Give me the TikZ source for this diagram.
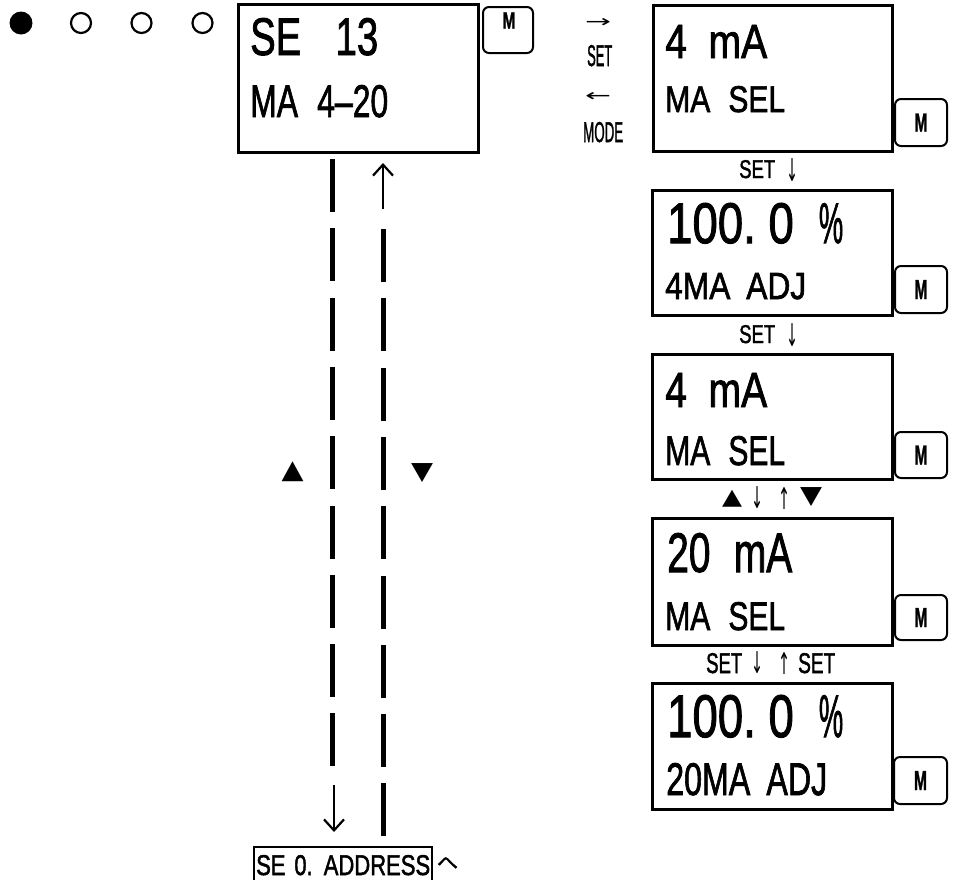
\documentclass[tikz,border=0pt]{standalone}
\usepackage{fontspec}
\usepackage{graphicx}
\usetikzlibrary{arrows.meta}
\setmainfont{Liberation Sans}[FakeBold=1.8]
\newfontfamily\mbf{Liberation Sans Bold}[FakeBold=1.5]
\newfontfamily\symf{DejaVu Sans}
\newfontfamily\jpf{Noto Sans CJK JP}[FakeBold=2]
\newcommand\fitbox[3]{\resizebox{#1pt}{#2pt}{#3}}
\newcommand\fitsym[3]{\resizebox*{#1pt}{#2pt}{\symf #3}}
\tikzset{
  lcdbox/.style={draw, line width=3pt, inner sep=0pt, anchor=north west},
  mbtn/.style={draw, line width=2pt, rounded corners=6pt, inner sep=0pt},
  txt/.style={anchor=base west, inner sep=0pt},
  sym/.style={anchor=center, inner sep=0pt},
  dashline/.style={line width=5pt, dash pattern=on 53pt off 16.3pt},
  bigarrow/.style={line width=2.2pt, -{Straight Barb[length=11pt,width=20pt,line width=2.2pt]}}
}
\begin{document}
\begin{tikzpicture}[x=1pt,y=-1pt]
\useasboundingbox (0,0) rectangle (957,879);
% mode dots
\fill (21,23) circle (11.5);
\draw[line width=2.2pt] (81,23) circle (10);
\draw[line width=2.2pt] (141.5,23) circle (10);
\draw[line width=2.2pt] (202.5,23) circle (10);

% box 1
\node[lcdbox, line width=3.3pt, minimum width=240pt, minimum height=148pt] (b1) at (237,3) {};
\node[txt] (t1a) at (250,55) {\fitbox{128}{37}{SE\hspace{0.9em}13}};
\node[txt] (t1b) at (250,117) {\fitbox{138}{32}{MA\hspace{0.6em}4–20}};
\node[mbtn, minimum width=50pt, minimum height=46pt] (m1) at (508,30) {};
\node[sym] (m1t) at (509,20.5) {\fitbox{13}{16}{\mbf M}};

% set / mode
\node[sym] (ar1) at (598,23) {\fitsym{26}{9}{→}};
\node[txt] (set0) at (587,66) {\fitbox{25}{21}{SET}};
\node[sym] (ar2) at (598,97) {\fitsym{26}{9}{←}};
\node[txt] (mode0) at (583,142) {\fitbox{40}{20}{MODE}};

% box 2
\node[lcdbox, minimum width=239pt, minimum height=146pt] (b2) at (652,4) {};
\node[txt] (t2a) at (665,58) {\fitbox{102}{33}{4\hspace{0.55em}mA}};
\node[txt] (t2b) at (665,112) {\fitbox{120}{26}{MA\hspace{0.6em}SEL}};
\node[mbtn, minimum width=52pt, minimum height=47pt] (m2) at (921,122.5) {};
\node[sym] (m2t) at (m2) {\fitbox{13}{18}{\mbf M}};

\node[txt] (s1) at (739,178) {\fitbox{36}{18}{SET}};
\node[sym] (s1a) at (792,170) {\fitsym{12}{23}{↓}};

% box 3
\node[lcdbox, minimum width=240pt, minimum height=125pt] (b3) at (651,189) {};
\node[txt] (t3a) at (667,243) {\fitbox{176}{40}{100.\hspace{0.28em}0\hspace{0.55em}\scalebox{0.6}[1]{\%}}};
\node[txt] (t3b) at (665,299) {\fitbox{141}{26}{4MA\hspace{0.5em}ADJ}};
\node[mbtn, minimum width=52pt, minimum height=47pt] (m3) at (921,289.5) {};
\node[sym] (m3t) at (m3) {\fitbox{13}{19}{\mbf M}};

\node[txt] (s2) at (739,343) {\fitbox{36}{18}{SET}};
\node[sym] (s2a) at (792,335) {\fitsym{12}{23}{↓}};

% box 4
\node[lcdbox, minimum width=240pt, minimum height=125pt] (b4) at (651,353) {};
\node[txt] (t4a) at (665,407) {\fitbox{102}{34}{4\hspace{0.55em}mA}};
\node[txt] (t4b) at (665,465) {\fitbox{120}{29}{MA\hspace{0.6em}SEL}};
\node[mbtn, minimum width=52pt, minimum height=46pt] (m4) at (921,455) {};
\node[sym] (m4t) at (m4) {\fitbox{13}{19}{\mbf M}};

\node[sym] (r3a) at (732,498.5) {\fitsym{20}{17}{▲}};
\node[sym] (r3b) at (757,498) {\fitsym{12}{22}{↓}};
\node[sym] (r3c) at (784,498) {\fitsym{12}{22}{↑}};
\node[sym] (r3d) at (811,497.5) {\fitsym{22}{19}{▼}};

% box 5
\node[lcdbox, minimum width=240pt, minimum height=127pt] (b5) at (651,517) {};
\node[txt] (t5a) at (667,572) {\fitbox{125}{39}{20\hspace{0.6em}mA}};
\node[txt] (t5b) at (665,630) {\fitbox{120}{28}{MA\hspace{0.6em}SEL}};
\node[mbtn, minimum width=52pt, minimum height=45pt] (m5) at (921,617.5) {};
\node[sym] (m5t) at (m5) {\fitbox{13}{19}{\mbf M}};

\node[txt] (s4a) at (706,673) {\fitbox{36}{20}{SET}};
\node[sym] (s4b) at (757,663) {\fitsym{12}{22}{↓}};
\node[sym] (s4c) at (784,663) {\fitsym{12}{22}{↑}};
\node[txt] (s4d) at (798,673) {\fitbox{37}{20}{SET}};

% box 6
\node[lcdbox, minimum width=240pt, minimum height=126pt] (b6) at (651,682) {};
\node[txt] (t6a) at (667,737) {\fitbox{176}{42}{100.\hspace{0.28em}0\hspace{0.55em}\scalebox{0.6}[1]{\%}}};
\node[txt] (t6b) at (666,795) {\fitbox{161}{32}{20MA\hspace{0.5em}ADJ}};
\node[mbtn, minimum width=53pt, minimum height=47pt] (m6) at (920.5,780.5) {};
\node[sym] (m6t) at (m6) {\fitbox{13}{19}{\mbf M}};

% bottom address box (open at the page edge)
\coordinate (ad1) at (254,881);
\coordinate (ad2) at (254,847);
\coordinate (ad3) at (432,847);
\coordinate (ad4) at (432,881);
\draw[line width=2pt] (ad1) -- (ad2) -- (ad3) -- (ad4);
\node[txt] (adt) at (256,875) {\fitbox{174}{20}{SE\hspace{0.4em}0.\hspace{0.5em}ADDRESS}};
\node[sym] (he) at (447.5,863) {\resizebox*{21pt}{12pt}{\jpf へ}};

% connectors
\coordinate (la) at (332,159);
\coordinate (lb) at (332,766);
\coordinate (lc) at (334,785);
\coordinate (ld) at (334,832);
\coordinate (ra) at (383,209);
\coordinate (rb) at (383,163);
\coordinate (rc) at (383,229);
\coordinate (rd) at (383,837);
\draw[dashline] (la) -- (lb);
\draw[bigarrow] (lc) -- (ld);
\draw[bigarrow] (ra) -- (rb);
\draw[dashline] (rc) -- (rd);

\node[sym] (up) at (292.5,472) {\fitsym{22}{20}{▲}};
\node[sym] (dn) at (422,473.5) {\fitsym{22}{19}{▼}};
\end{tikzpicture}
\end{document}
